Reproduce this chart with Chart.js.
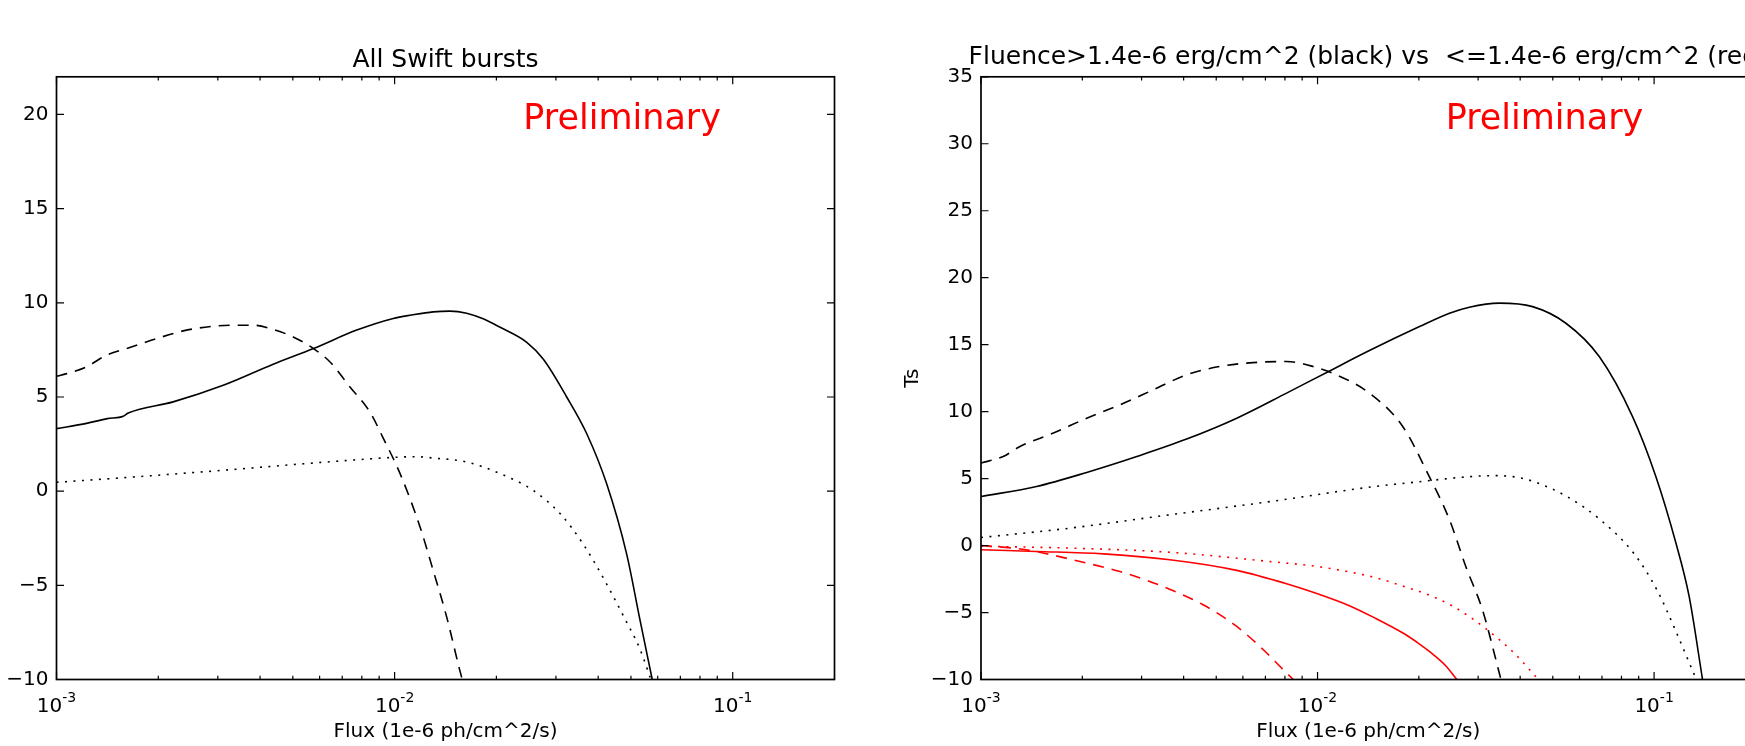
<!DOCTYPE html>
<html><head><meta charset="utf-8">
<script src="https://cdn.jsdelivr.net/npm/chart.js@4.4.1/dist/chart.umd.min.js"></script>
<style>
html,body{margin:0;padding:0;background:#fff;width:1745px;height:746px;overflow:hidden;position:relative;}
#w1{position:absolute;left:0;top:0;width:880px;height:746px;}
#w2{position:absolute;left:880px;top:0;width:900px;height:746px;}
canvas{display:block;}
</style></head><body>
<div id="w1"><canvas id="c1" width="880" height="746"></canvas></div>
<div id="w2"><canvas id="c2" width="900" height="746"></canvas></div>
<script>
// ---------- axes / ticks ----------
const X_MIN = 0.001, X_MAX = 0.2;
const X_MAJOR_TICKS = [0.001, 0.01, 0.1];
const X_TICK_EXPONENTS = ['-3', '-2', '-1'];
const X_MINOR_TICKS = [0.002,0.003,0.004,0.005,0.006,0.007,0.008,0.009,
                       0.02,0.03,0.04,0.05,0.06,0.07,0.08,0.09];
const LEFT_Y_MIN = -10, LEFT_Y_MAX = 22;
const LEFT_Y_TICKS = [-10,-5,0,5,10,15,20];
const RIGHT_Y_MIN = -10, RIGHT_Y_MAX = 35;
const RIGHT_Y_TICKS = [-10,-5,0,5,10,15,20,25,30,35];
const LEFT_TITLE = 'All Swift bursts';
const RIGHT_TITLE = 'Fluence>1.4e-6 erg/cm^2 (black) vs  <=1.4e-6 erg/cm^2 (red)';
const X_LABEL = 'Flux (1e-6 ph/cm^2/s)';
const RIGHT_Y_LABEL = 'Ts';
const WATERMARK = 'Preliminary';

// ---------- left panel: all Swift bursts ----------
const L_SOLID_X = [0.001,0.001227,0.001413,0.001576,0.00163,0.002213,0.003112,0.004375,0.005754,0.007727,0.009908,0.01122,0.0130,0.01459,0.01633,0.01828,0.02051,0.0246,0.02754,0.03228,0.03698,0.04236,0.04853,0.05321,0.05781];
const L_SOLID_Y = [3.32,3.6,3.85,3.98,4.15,4.74,5.62,6.74,7.57,8.55,9.17,9.35,9.52,9.56,9.45,9.15,8.7,7.9,7.0,5.0,3.06,0.4,-3.32,-6.86,-10];
const L_DASH_X = [0.001,0.001072,0.001227,0.001406,0.001648,0.001977,0.002371,0.002911,0.003334,0.003819,0.004375,0.005012,0.005754,0.006442,0.007379,0.008453,0.009268,0.01038,0.01189,0.0130,0.01426,0.01552,0.01585];
const L_DASH_Y = [6.1,6.24,6.6,7.22,7.63,8.10,8.51,8.76,8.81,8.81,8.58,8.19,7.57,6.86,5.53,4.20,2.79,0.93,-1.9,-4.2,-6.69,-9.38,-10];
const L_DOT_X = [0.001,0.001778,0.003162,0.005623,0.007943,0.01038,0.01148,0.0130,0.01633,0.02051,0.0257,0.0309,0.03606,0.0414,0.04742,0.05321,0.05728];
const L_DOT_Y = [0.47,0.78,1.12,1.48,1.68,1.81,1.83,1.76,1.55,0.93,0.04,-1.2,-2.79,-4.6,-6.6,-8.4,-10];

// ---------- right panel: fluence split ----------
const R_BLK_SOLID_X = [0.001,0.001462,0.002061,0.002904,0.004083,0.005754,0.008091,0.01086,0.01426,0.02009,0.02466,0.02825,0.03467,0.04355,0.0547,0.06871,0.0863,0.1012,0.1161,0.1271,0.1393];
const R_BLK_SOLID_Y = [3.66,4.41,5.46,6.65,7.95,9.51,11.38,13.04,14.56,16.35,17.35,17.8,18.1,17.84,16.6,14.11,9.63,5.16,0.19,-3.8,-10];
const R_BLK_DASH_X = [0.001,0.001164,0.001306,0.001641,0.002061,0.002588,0.003251,0.004083,0.005117,0.006427,0.008091,0.009705,0.01138,0.01426,0.01791,0.02148,0.02466,0.02761,0.0309,0.03508];
const R_BLK_DASH_Y = [6.16,6.65,7.40,8.40,9.51,10.51,11.63,12.75,13.37,13.66,13.74,13.37,12.75,11.38,8.89,5.15,1.93,-1.6,-4.8,-10];
const R_BLK_DOT_X = [0.001,0.001837,0.003639,0.007261,0.01435,0.01977,0.02844,0.03311,0.03802,0.04385,0.05508,0.06918,0.0869,0.1019,0.1167,0.1324,0.1337];
const R_BLK_DOT_Y = [0.6,1.3,2.3,3.29,4.37,4.75,5.15,5.22,5.15,4.78,3.66,1.93,-0.56,-3.3,-6.53,-9.77,-10];
const R_RED_SOLID_X = [0.001,0.001462,0.002307,0.003639,0.005754,0.008091,0.01,0.01233,0.01479,0.01799,0.01995,0.02173,0.02399,0.02594];
const R_RED_SOLID_Y = [-0.31,-0.44,-0.62,-1.06,-1.85,-2.85,-3.6,-4.45,-5.4,-6.55,-7.3,-8.0,-8.95,-10];
const R_RED_DASH_X = [0.001,0.001259,0.001462,0.001567,0.001968,0.002588,0.003475,0.004571,0.005754,0.006902,0.007907,0.008472];
const R_RED_DASH_Y = [0.0,-0.2,-0.45,-0.61,-1.19,-1.94,-3.06,-4.42,-6.04,-7.78,-9.27,-10];
const R_RED_DOT_X = [0.001,0.001837,0.003639,0.007261,0.01023,0.01489,0.01778,0.02173,0.02512,0.02825,0.03162,0.03828,0.04529];
const R_RED_DOT_Y = [-0.05,-0.19,-0.5,-1.2,-1.6,-2.4,-3.0,-3.75,-4.5,-5.3,-6.2,-8.0,-10];

// ---------- styling ----------
const FONT = "'DejaVu Sans', 'Liberation Sans', sans-serif";
const BLACK = '#000000', RED = '#ff0000';
const DASH = [11, 8], DOT = [2, 6.5];
const LW = 1.6;

function pts(xs, ys) { return xs.map((x, i) => ({x: x, y: ys[i]})); }
function ds(xs, ys, color, dash) {
  return {data: pts(xs, ys), borderColor: color, borderWidth: LW, borderDash: dash || [],
          pointRadius: 0, fill: false, tension: 0, cubicInterpolationMode: 'monotone'};
}

const frameAndTicks = {
  id: 'frameAndTicks',
  afterDatasetsDraw(chart, args, opts) {
    const {ctx, chartArea: a, scales: {x, y}} = chart;
    ctx.save();
    ctx.strokeStyle = BLACK;
    ctx.lineWidth = 1.2;
    ctx.beginPath();
    const vtick = (v, len) => {
      const p = x.getPixelForValue(v);
      ctx.moveTo(p, a.bottom); ctx.lineTo(p, a.bottom - len);
      ctx.moveTo(p, a.top); ctx.lineTo(p, a.top + len);
    };
    X_MAJOR_TICKS.forEach(v => vtick(v, 7.5));
    X_MINOR_TICKS.forEach(v => vtick(v, 3.8));
    opts.yTicks.forEach(v => {
      const p = y.getPixelForValue(v);
      ctx.moveTo(a.left, p); ctx.lineTo(a.left + 7.5, p);
      ctx.moveTo(a.right, p); ctx.lineTo(a.right - 7.5, p);
    });
    ctx.stroke();
    ctx.lineWidth = 1.7;
    ctx.strokeRect(a.left, a.top, a.right - a.left, a.bottom - a.top);
    // log tick labels 10^n
    ctx.fillStyle = BLACK;
    ctx.textBaseline = 'alphabetic';
    X_MAJOR_TICKS.forEach((v, i) => {
      const p = x.getPixelForValue(v);
      ctx.font = '20px ' + FONT;
      const w1 = ctx.measureText('10').width;
      ctx.font = '14px ' + FONT;
      const w2 = ctx.measureText(X_TICK_EXPONENTS[i]).width;
      const start = p - (w1 + w2) / 2;
      ctx.font = '20px ' + FONT;
      ctx.textAlign = 'left';
      ctx.fillText('10', start, 712);
      ctx.font = '14px ' + FONT;
      ctx.fillText(X_TICK_EXPONENTS[i], start + w1, 702);
    });
    // axes title, centred over the plot area (may overhang it)
    ctx.font = '25px ' + FONT;
    ctx.textAlign = 'center';
    ctx.textBaseline = 'middle';
    ctx.fillText(opts.title, (a.left + a.right) / 2, opts.titleY);
    // watermark
    ctx.fillStyle = RED;
    ctx.font = '35px ' + FONT;
    ctx.textAlign = 'left';
    ctx.textBaseline = 'alphabetic';
    ctx.fillText(WATERMARK, a.left + 0.6 * (a.right - a.left), a.top + 0.087 * (a.bottom - a.top));
    ctx.restore();
  }
};

function makeChart(id, datasets, cfg) {
  return new Chart(document.getElementById(id), {
    type: 'line',
    data: {datasets: datasets},
    plugins: [frameAndTicks],
    options: {
      responsive: false, animation: false, devicePixelRatio: 1,
      layout: {padding: {left: 0, right: cfg.padRight, top: 76.8, bottom: 0}},
      plugins: {
        legend: {display: false}, tooltip: {enabled: false}, title: {display: false},
        frameAndTicks: {yTicks: cfg.yTicks, title: cfg.title, titleY: cfg.titleY}
      },
      scales: {
        x: {
          type: 'logarithmic', min: X_MIN, max: X_MAX,
          afterBuildTicks: s => { s.ticks = X_MAJOR_TICKS.map(v => ({value: v})); },
          afterFit: s => { s.height = 66.5; },
          grid: {display: false, drawTicks: false}, border: {display: false},
          ticks: {display: false},
          title: {display: true, text: X_LABEL, color: BLACK,
                  font: {family: FONT, size: 20, lineHeight: 1.2}, padding: {top: 0, bottom: 2}}
        },
        y: {
          type: 'linear', min: cfg.yMin, max: cfg.yMax,
          afterBuildTicks: s => { s.ticks = cfg.yTicks.map(v => ({value: v})); },
          afterFit: s => { s.width = cfg.yWidth; },
          grid: {display: false, drawTicks: false}, border: {display: false},
          ticks: {color: BLACK, padding: 8, font: {family: FONT, size: 20},
                  callback: v => String(v).replace('-', '\u2212')},
          title: cfg.yTitle ? {display: true, text: cfg.yTitle, color: BLACK,
                  font: {family: FONT, size: 20, lineHeight: 1.2}, padding: {top: 21, bottom: 0}}
                 : {display: false}
        }
      }
    }
  });
}

makeChart('c1', [
  ds(L_SOLID_X, L_SOLID_Y, BLACK),
  ds(L_DASH_X, L_DASH_Y, BLACK, DASH),
  ds(L_DOT_X, L_DOT_Y, BLACK, DOT)
], {title: LEFT_TITLE, titleY: 60.9,
    yMin: LEFT_Y_MIN, yMax: LEFT_Y_MAX, yTicks: LEFT_Y_TICKS, yWidth: 56.5, padRight: 45.5});

makeChart('c2', [
  ds(R_BLK_SOLID_X, R_BLK_SOLID_Y, BLACK),
  ds(R_BLK_DASH_X, R_BLK_DASH_Y, BLACK, DASH),
  ds(R_BLK_DOT_X, R_BLK_DOT_Y, BLACK, DOT),
  ds(R_RED_SOLID_X, R_RED_SOLID_Y, RED),
  ds(R_RED_DASH_X, R_RED_DASH_Y, RED, DASH),
  ds(R_RED_DOT_X, R_RED_DOT_Y, RED, DOT)
], {title: RIGHT_TITLE, titleY: 57.8,
    yMin: RIGHT_Y_MIN, yMax: RIGHT_Y_MAX, yTicks: RIGHT_Y_TICKS, yWidth: 101, padRight: 24.6,
    yTitle: RIGHT_Y_LABEL});
</script>
</body></html>
